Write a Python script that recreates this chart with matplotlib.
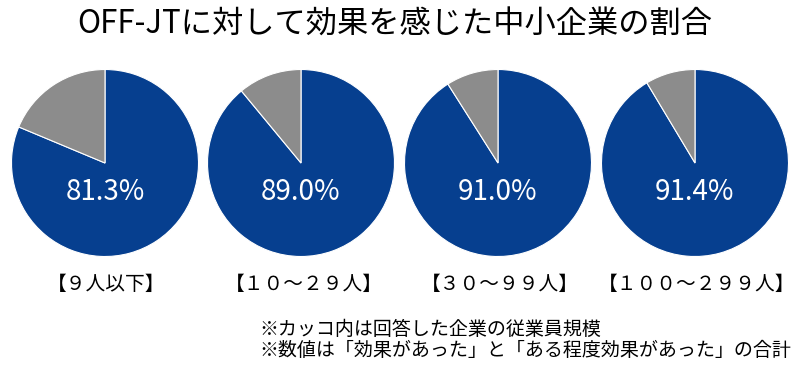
import matplotlib
matplotlib.use("Agg")
import matplotlib.pyplot as plt

plt.rcParams['font.family'] = ['Noto Sans CJK JP', 'DejaVu Sans']

# データ（効果があった＋ある程度効果があった の割合）
groups = ['【９人以下】', '【１０～２９人】', '【３０～９９人】', '【１００～２９９人】']
effective = [81.3, 89.0, 91.0, 91.4]

title = 'OFF-JTに対して効果を感じた中小企業の割合'
notes = ['※カッコ内は回答した企業の従業員規模',
         '※数値は「効果があった」と「ある程度効果があった」の合計']

blue = '#063f8f'
gray = '#8c8c8c'

W, H = 800, 375
fig = plt.figure(figsize=(W / 100, H / 100), dpi=100)
fig.patch.set_facecolor('white')

# 円の中心（ピクセル）と半径
centers_x = [105, 301, 498, 695]
label_x = [106, 304, 500, 697]
cy = 163
r = 93.5

for i, (g, v) in enumerate(zip(groups, effective)):
    cx = centers_x[i]
    ax = fig.add_axes([(cx - r) / W, (H - cy - r) / H, 2 * r / W, 2 * r / H])
    ax.pie([v, 100 - v], colors=[blue, gray], startangle=90, counterclock=False,
           radius=1.0, wedgeprops=dict(edgecolor='white', linewidth=0.8))
    ax.set_xlim(-1, 1)
    ax.set_ylim(-1, 1)
    ax.set_aspect('equal')
    ax.axis('off')
    ax.text(0, -0.31, f'{v:.1f}%', color='white', fontsize=20,
            ha='center', va='center')
    fig.text(label_x[i] / W, 1 - 284 / H, g, fontsize=14.2, ha='center', va='center')

fig.text(395 / W, 1 - 25 / H, title, fontsize=22.5, ha='center', va='center')
fig.text(259 / W, 1 - 329 / H, notes[0], fontsize=13.7, ha='left', va='center')
fig.text(259 / W, 1 - 351 / H, notes[1], fontsize=13.7, ha='left', va='center')

fig.savefig('out.png', dpi=100)
